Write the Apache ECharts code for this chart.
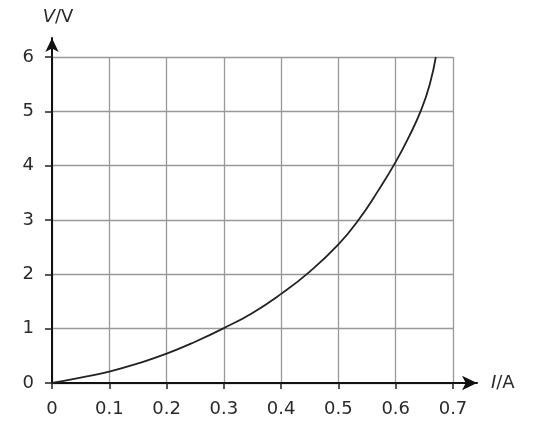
<!DOCTYPE html>
<html>
<head>
<meta charset="utf-8">
<script src="https://cdn.jsdelivr.net/npm/echarts@6/dist/echarts.min.js"></script>
<style>html,body{margin:0;padding:0;background:#fff;}#c{width:534px;height:426px;}</style>
</head>
<body>
<div id="c"></div>
<script>
// Data (I in A, V in V)
const currentA = [0, 0.05, 0.1, 0.15, 0.2, 0.25, 0.3, 0.35, 0.4, 0.45, 0.5, 0.535, 0.57, 0.6, 0.623, 0.645, 0.66, 0.67];
const voltageV = [0, 0.1, 0.21, 0.36, 0.54, 0.76, 1.01, 1.29, 1.64, 2.05, 2.55, 3.0, 3.55, 4.07, 4.53, 5.04, 5.52, 6.0];
const xTicks = [0, 0.1, 0.2, 0.3, 0.4, 0.5, 0.6, 0.7];
const yTicks = [0, 1, 2, 3, 4, 5, 6];

const font = 'DejaVu Sans';
const fs = 18;
const chart = echarts.init(document.getElementById('c'), null, {renderer: 'canvas'});
const points = currentA.map((x, i) => [x, voltageV[i]]);

chart.setOption({
  animation: false,
  backgroundColor: '#fff',
  grid: [
    {left: 52, right: 81, top: 57, bottom: 43},
    {left: 52, right: 57, top: 38, bottom: 43}
  ],
  xAxis: [
    {
      gridIndex: 0, type: 'value', min: xTicks[0], max: xTicks[xTicks.length - 1], interval: 0.1,
      axisLine: {show: false},
      axisTick: {show: true, length: 6, lineStyle: {color: '#222', width: 1.5}},
      axisLabel: {color: '#2a2a2a', fontFamily: font, fontSize: fs, margin: 17,
        formatter: v => (Math.round(v * 10) / 10).toString()},
      splitLine: {show: true, lineStyle: {color: '#999', width: 1.3}}
    },
    {
      gridIndex: 1, type: 'value', min: 0, max: 1,
      axisLine: {show: true, symbol: ['none', 'arrow'], symbolSize: [11, 15], lineStyle: {color: '#111', width: 2}},
      axisTick: {show: false}, axisLabel: {show: false}, splitLine: {show: false},
      name: '{i|I}/A', nameLocation: 'end', nameGap: 14,
      nameTextStyle: {color: '#2a2a2a', fontFamily: font, fontSize: fs, rich: {i: {fontStyle: 'italic', fontFamily: font, fontSize: fs, color: '#2a2a2a'}}}
    }
  ],
  yAxis: [
    {
      gridIndex: 0, type: 'value', min: yTicks[0], max: yTicks[yTicks.length - 1], interval: 1,
      axisLine: {show: false},
      axisTick: {show: true, length: 7, lineStyle: {color: '#222', width: 1.5}},
      axisLabel: {color: '#2a2a2a', fontFamily: font, fontSize: fs, margin: 18},
      splitLine: {show: true, lineStyle: {color: '#999', width: 1.3}}
    },
    {
      gridIndex: 1, type: 'value', min: 0, max: 1,
      axisLine: {show: true, symbol: ['none', 'arrow'], symbolSize: [10, 14], lineStyle: {color: '#111', width: 2}},
      axisTick: {show: false}, axisLabel: {show: false}, splitLine: {show: false},
      name: '{i|V}/V', nameLocation: 'end', nameGap: 12,
      nameTextStyle: {color: '#2a2a2a', fontFamily: font, fontSize: fs, padding: [0, 0, 0, 12],
        rich: {i: {fontStyle: 'italic', fontFamily: font, fontSize: fs, color: '#2a2a2a'}}}
    }
  ],
  series: [
    {
      type: 'line', xAxisIndex: 0, yAxisIndex: 0, data: points, smooth: 0.5,
      showSymbol: false, clip: false,
      lineStyle: {color: '#222', width: 1.8}
    }
  ]
});
</script>
</body>
</html>
